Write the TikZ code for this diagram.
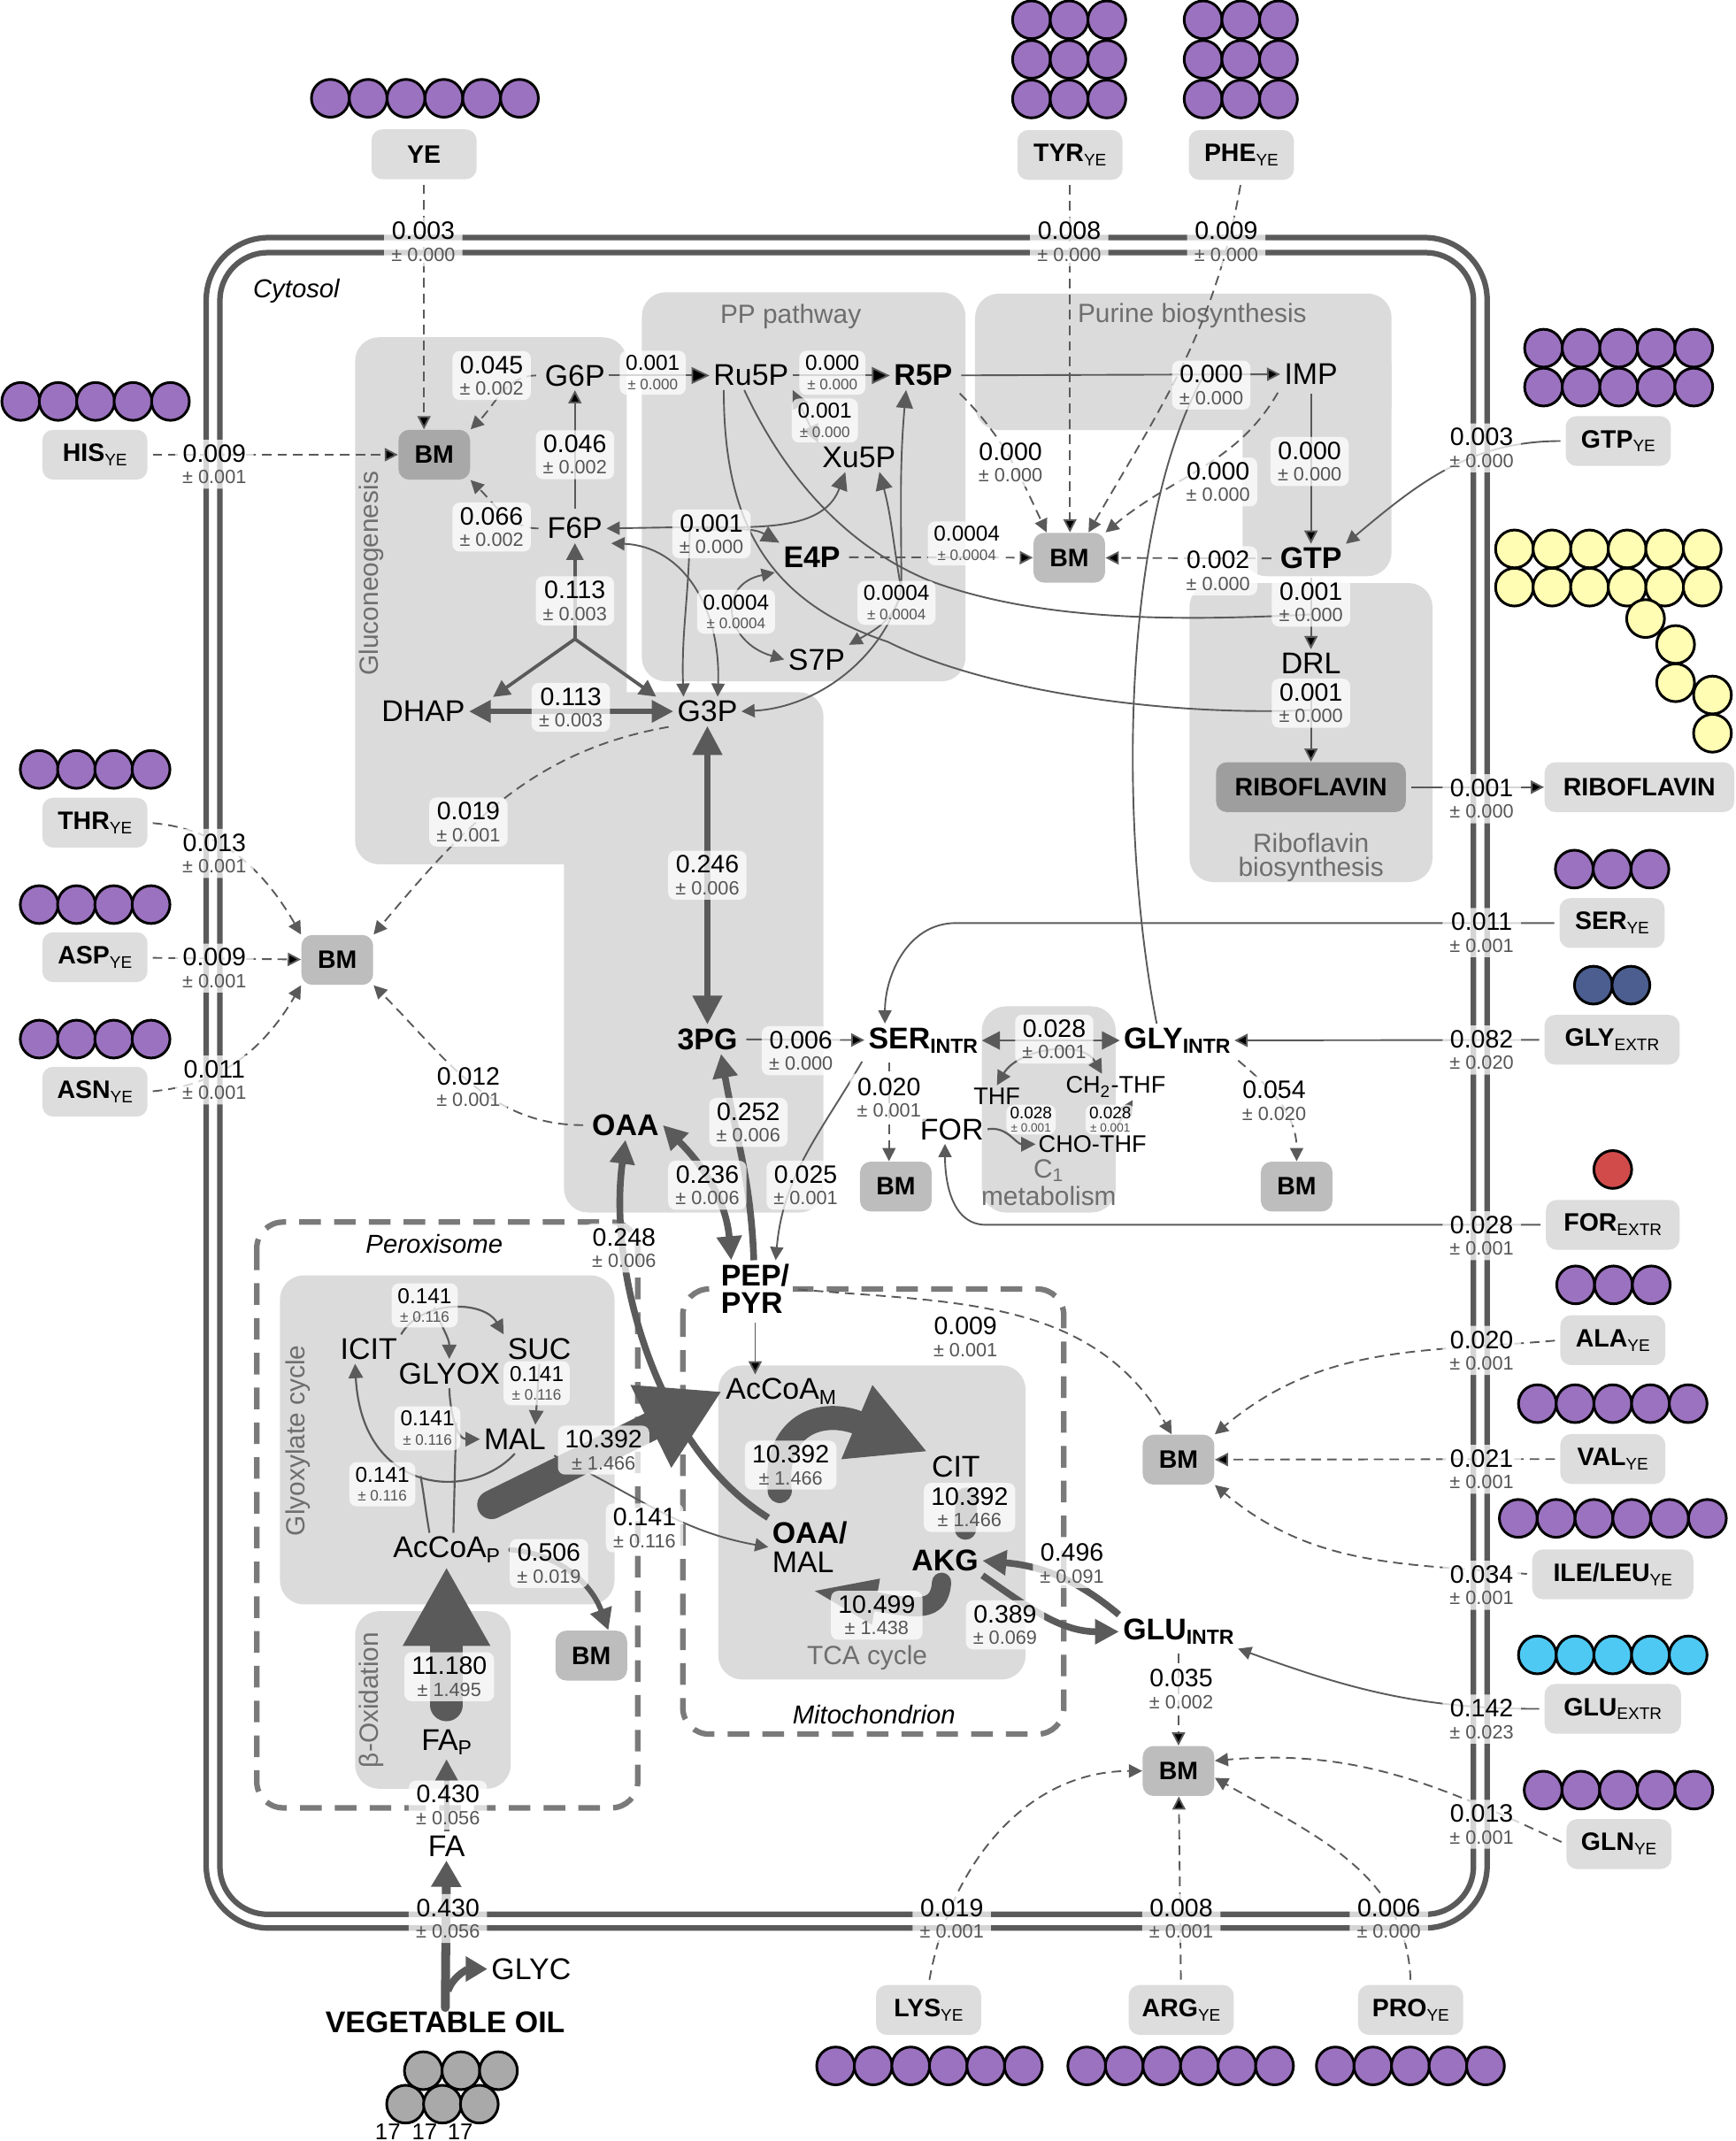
\documentclass[tikz,border=0pt]{standalone}
\usepackage{fontspec}
\setmainfont{Liberation Sans}
\usepackage{tikz}
\usetikzlibrary{arrows.meta,calc}

\definecolor{cmpgray}{HTML}{DBDBDB}
\definecolor{boxgray}{HTML}{DDDDDD}
\definecolor{bmgray}{HTML}{BDBDBD}
\definecolor{bmdark}{HTML}{A8A8A8}
\definecolor{ribodark}{HTML}{9E9E9E}
\definecolor{linegray}{HTML}{5A5A5A}
\definecolor{dashgray}{HTML}{7A7A7A}
\definecolor{txtgray}{HTML}{6E6E6E}
\definecolor{errgray}{HTML}{555555}
\definecolor{yecol}{HTML}{9B72BF}
\definecolor{glucol}{HTML}{4EC9F3}
\definecolor{glycol}{HTML}{4B5E8F}
\definecolor{forcol}{HTML}{D14B4B}
\definecolor{ribocol}{HTML}{FFFDB3}
\definecolor{oilcol}{HTML}{A9A9A9}

\newcommand{\fx}[2]{#1\\{\fontsize{8}{8}\selectfont\color{errgray}± #2}}
\newcommand{\fxs}[2]{#1\\{\fontsize{6.3}{6.3}\selectfont\color{errgray}± #2}}
\newcommand{\fxt}[2]{#1\\{\fontsize{5}{5}\selectfont\color{errgray}± #2}}
\newcommand{\lowtxt}[1]{\raisebox{-1.8pt}{\fontsize{7}{7}\selectfont\mdseries #1}}
\newcommand{\lowmet}[1]{\raisebox{-2pt}{\fontsize{8.5}{8.5}\selectfont #1}}

\tikzstyle{met}=[inner sep=1.5pt, font=\fontsize{12.5}{13}\selectfont]
\tikzstyle{metb}=[met, font=\fontsize{12.5}{13}\selectfont\bfseries]
\tikzstyle{metc}=[inner sep=1pt, font=\fontsize{10}{10}\selectfont]
\tikzstyle{extbox}=[fill=boxgray, rounded corners=4.5pt, minimum width=1.54cm, minimum height=0.73cm, inner sep=1pt, font=\fontsize{10.5}{11}\selectfont\bfseries]
\tikzstyle{bmbox}=[extbox, fill=bmgray, minimum width=1.05cm]
\tikzstyle{flux}=[fill=white, fill opacity=0.75, text opacity=1, rounded corners=3pt, align=center, inner xsep=3pt, inner ysep=2pt, font=\fontsize{10.5}{9}\selectfont]
\tikzstyle{fluxs}=[flux, inner xsep=2.5pt, font=\fontsize{9}{8}\selectfont]
\tikzstyle{fluxt}=[flux, inner xsep=1.5pt, inner ysep=1pt, font=\fontsize{7}{5.5}\selectfont]
\tikzstyle{comp}=[fill=cmpgray, rounded corners=10pt]
\tikzstyle{cmplab}=[text=txtgray, inner sep=1pt, font=\fontsize{11}{10}\selectfont]
\tikzstyle{orglab}=[inner sep=1pt, font=\fontsize{10.8}{11}\selectfont\itshape]
\tikzstyle{orgn}=[draw=dashgray, line width=2.3pt, dash pattern=on 9pt off 5.5pt, rounded corners=11pt]
\tikzstyle{aa}=[draw=black, line width=1.1pt, fill=yecol]
\tikzstyle{sflow}=[draw=linegray, line width=0.7pt, >={Triangle[length=5.5pt,width=5.5pt]}, ->, shorten <=2pt]
\tikzstyle{sflowb}=[draw=linegray, line width=0.7pt, >={Triangle[length=7.5pt,width=7pt]}, ->]
\tikzstyle{dflow}=[sflow, dash pattern=on 4pt off 2.5pt]
\tikzstyle{plainln}=[draw=linegray, line width=0.7pt]
\tikzstyle{mflow}=[draw=linegray, line width=1.4pt, >={Triangle[length=7pt,width=7pt]}]
\tikzstyle{tflow}=[draw=linegray, line width=2.8pt, >={Triangle[length=10pt,width=10pt]}]
\tikzstyle{gflow}=[draw=linegray, line width=0.8pt, >={Triangle[length=6pt,width=6pt]}]

\begin{document}
\begin{tikzpicture}[x=0.02cm, y=-0.02cm]
\useasboundingbox (0,0) rectangle (1271,1568);
\clip (0,0) rectangle (1271,1568);

% compartments
\fill[comp] (260,247) rectangle (459,633);
\fill[comp] (413,507) rectangle (603,888);
\fill[comp] (470,214) rectangle (707,499);
\fill[comp] (714,215) rectangle (1019,315);
\fill[comp] (910,250) rectangle (1019,422);
\fill[comp] (871,427) rectangle (1049,646);
\fill[comp] (719,737) rectangle (817,888);
\fill[comp] (205,934) rectangle (450,1175);
\fill[comp] (260,1180) rectangle (374,1310);
\fill[comp] (526,1000) rectangle (751,1230);

% cell membrane
\draw[draw=linegray, line width=2.3pt, rounded corners=26pt] (151,174) rectangle (1089,1412);
\draw[draw=linegray, line width=2.3pt, rounded corners=20pt] (161,185) rectangle (1079,1402);
% organelles
\draw[orgn] (188,895) rectangle (467,1324);
\draw[orgn] (500,944) rectangle (779,1270);

\node (cyto) [orglab] at (217,213) {Cytosol};
\node (perox) [orglab] at (318,911) {Peroxisome};
\node (mito) [orglab] at (640,1256) {Mitochondrion};
\node (glclab) [cmplab, rotate=90] at (272,420) {Gluconeogenesis};
\node (pplab) [cmplab] at (579,232) {PP pathway};
\node (purlab) [cmplab] at (873,231) {Purine biosynthesis};
\node (ribolab) [cmplab, align=center] at (960,628) {Riboflavin\\biosynthesis};
\node (c1lab) [cmplab, align=center, font=\fontsize{11}{11.5}\selectfont] at (768,866) {C\textsubscript{1}\\metabolism};
\node (gxlab) [cmplab, rotate=90] at (218,1055) {Glyoxylate cycle};
\node (boxlab) [cmplab, rotate=90] at (272,1245) {β-Oxidation};
\node (tcalab) [cmplab] at (635,1214) {TCA cycle};

% substrate composition
\foreach \i in {0,...,5} \draw[aa] (241.9+27.7*\i,72) circle (13.85);
\foreach \i in {0,...,4} \draw[aa] (15.2+27.4*\i,294) circle (13.85);
\foreach \i in {0,...,3} {
  \draw[aa] (28.7+27.3*\i,563.5) circle (13.85);
  \draw[aa] (28.7+27.3*\i,662.5) circle (13.85);
  \draw[aa] (28.7+27.3*\i,761) circle (13.85);
}
\foreach \i in {0,1,2} \foreach \j in {0,1,2} {
  \draw[aa] (755.3+27.6*\i,14.5+29*\j) circle (13.85);
  \draw[aa] (881+27.6*\i,14.5+29*\j) circle (13.85);
}
\foreach \i in {0,...,4} \foreach \j in {0,1} \draw[aa] (1130.3+27.5*\i,255+28.5*\j) circle (13.85);
\foreach \i in {0,...,5} \foreach \j in {0,1} \draw[aa, fill=ribocol] (1109+27.5*\i,402+28*\j) circle (13.85);
\foreach \p in {(1205,453),(1227,472),(1227,500),(1254,509),(1254,537)} \draw[aa, fill=ribocol] \p circle (13.85);
\foreach \i in {0,1,2} {
  \draw[aa] (1152.8+27.7*\i,636.5) circle (13.85);
  \draw[aa] (1153.8+27.7*\i,941) circle (13.85);
}
\foreach \i in {0,1} \draw[aa, fill=glycol] (1166.8+27.5*\i,721.5) circle (13.85);
\draw[aa, fill=forcol] (1181,856.5) circle (13.85);
\foreach \i in {0,...,4} {
  \draw[aa] (1125.8+27.6*\i,1028) circle (13.85);
  \draw[aa, fill=glucol] (1125.8+27.6*\i,1212) circle (13.85);
  \draw[aa] (1130+27.6*\i,1311) circle (13.85);
  \draw[aa] (977.8+27.5*\i,1513) circle (13.85);
}
\foreach \i in {0,...,5} {
  \draw[aa] (1111.8+27.7*\i,1112) circle (13.85);
  \draw[aa] (611.9+27.5*\i,1513) circle (13.85);
  \draw[aa] (795.8+27.5*\i,1513) circle (13.85);
}
\foreach \i in {0,1,2} {
  \draw[aa, fill=oilcol] (310+27.5*\i,1516.5) circle (13.85);
  \draw[aa, fill=oilcol] (297+27*\i,1541) circle (13.85);
}
\node (c17a) [metc, font=\fontsize{9.5}{10}\selectfont] at (284,1561) {17};
\node (c17b) [metc, font=\fontsize{9.5}{10}\selectfont] at (311,1561) {17};
\node (c17c) [metc, font=\fontsize{9.5}{10}\selectfont] at (337,1561) {17};

% exchange boxes
\node (ye) [extbox] at (310.5,113) {YE};
\node (tyr) [extbox] at (783.5,113.5) {TYR\lowtxt{YE}};
\node (phe) [extbox] at (909,113.5) {PHE\lowtxt{YE}};
\node (his) [extbox] at (69.5,333) {HIS\lowtxt{YE}};
\node (thr) [extbox] at (69.5,602.5) {THR\lowtxt{YE}};
\node (asp) [extbox] at (69.5,701) {ASP\lowtxt{YE}};
\node (asn) [extbox] at (69.5,799.5) {ASN\lowtxt{YE}};
\node (gtpye) [extbox] at (1185,323) {GTP\lowtxt{YE}};
\node (riboe) [extbox, minimum width=2.78cm] at (1200.5,576.5) {RIBOFLAVIN};
\node (serye) [extbox] at (1180.5,676) {SER\lowtxt{YE}};
\node (glye) [extbox, minimum width=1.98cm] at (1180.5,761.5) {GLY\lowtxt{EXTR}};
\node (fore) [extbox, minimum width=1.96cm] at (1181,897) {FOR\lowtxt{EXTR}};
\node (alaye) [extbox] at (1181,981.5) {ALA\lowtxt{YE}};
\node (valye) [extbox] at (1181,1068.5) {VAL\lowtxt{YE}};
\node (ileye) [extbox, minimum width=2.36cm] at (1181,1153) {ILE/LEU\lowtxt{YE}};
\node (glue) [extbox, minimum width=2cm] at (1181,1251.5) {GLU\lowtxt{EXTR}};
\node (glnye) [extbox] at (1185.5,1350.5) {GLN\lowtxt{YE}};
\node (lysye) [extbox] at (680,1472) {LYS\lowtxt{YE}};
\node (argye) [extbox] at (865,1472) {ARG\lowtxt{YE}};
\node (proye) [extbox] at (1033,1472) {PRO\lowtxt{YE}};

% biomass sinks
\node (bmglc) [bmbox, fill=bmdark] at (318,333) {BM};
\node (bmleft) [bmbox] at (247,703) {BM};
\node (bmpur) [bmbox] at (783,408.5) {BM};
\node (bmser) [bmbox] at (656,869) {BM};
\node (bmgly) [bmbox] at (949.5,869) {BM};
\node (bmala) [bmbox] at (863,1069) {BM};
\node (bmglu) [bmbox] at (863,1297) {BM};
\node (bmacp) [bmbox] at (433,1212.5) {BM};
\node (riboi) [bmbox, fill=ribodark, minimum width=2.78cm] at (960,576.5) {RIBOFLAVIN};

% metabolites
\node (g6p) [met] at (421,275) {G6P};
\node (ru5p) [met] at (550,275) {Ru5P};
\node (r5p) [metb] at (676,275) {R5P};
\node (imp) [met] at (960,274) {IMP};
\node (xu5p) [met] at (629,335) {Xu5P};
\node (f6p) [met] at (421,387) {F6P};
\node (e4p) [metb] at (594.5,408) {E4P};
\node (gtp) [metb] at (960,409) {GTP};
\node (s7p) [met] at (598,483) {S7P};
\node (dhap) [met] at (310,521) {DHAP};
\node (g3p) [met] at (518,521) {G3P};
\node (drl) [met] at (960,486) {DRL};
\node (pg3) [metb] at (518,761) {3PG};
\node (seri) [metb] at (676,762) {SER\lowmet{INTR}};
\node (glyi) [metb] at (862,762) {GLY\lowmet{INTR}};
\node (thf) [metc] at (730,803) {THF};
\node (ch2thf) [metc] at (817,796) {CH\textsubscript{2}-THF};
\node (form) [met] at (697,827) {FOR};
\node (chothf) [metc] at (800,838) {CHO-THF};
\node (oaa) [metb] at (458,824) {OAA};
\node (pep) [metb, fill=white, align=left, font=\fontsize{12.5}{11.5}\selectfont\bfseries] at (553,944) {PEP/\\PYR};
\node (acoam) [met] at (572,1019) {AcCoA\lowmet{M}};
\node (cit) [met] at (700,1074) {CIT};
\node (oaamal) [met, align=left, font=\fontsize{12.5}{12}\selectfont] at (593,1133) {\textbf{OAA/}\\MAL};
\node (akg) [metb] at (692,1143) {AKG};
\node (glui) [metb] at (863,1195) {GLU\lowmet{INTR}};
\node (icit) [met] at (270,988) {ICIT};
\node (suc) [met] at (395,988) {SUC};
\node (glyox) [met] at (329,1006) {GLYOX};
\node (mal) [met] at (377,1054) {MAL};
\node (acoap) [met] at (327,1135) {AcCoA\lowmet{P}};
\node (fap) [met] at (327,1276) {FA\lowmet{P}};
\node (fa) [met] at (327,1352) {FA};
\node (oil) [metb] at (326,1481) {VEGETABLE OIL};
\node (glyc) [met] at (389,1442) {GLYC};

% junctions
\coordinate (ald) at (421,468);
\coordinate (tk1) at (505,386);
\coordinate (tk2) at (660,432);
\coordinate (drlj1) at (960,450);
\coordinate (drlj2) at (960,520);
\coordinate (prjoin) at (882,274);
\coordinate (serbend) at (700,676);
\coordinate (forbend) at (722,897);
\coordinate (acptail) at (360,1102);
\coordinate (cstail) at (571,1092);
\coordinate (glycj) at (328,1458);
\coordinate (gx1j) at (318,957.5);
\coordinate (gx3j) at (334,1042);
\coordinate (gx4j) at (308,1081);

% uptake into biomass
\path[dflow]
  (ye) edge (ye.south |- bmglc.north)
  (his) edge (bmglc)
  (tyr) edge (tyr.south |- bmpur.north)
  (e4p) edge (bmpur)
  (gtp) edge (bmpur)
  (asp) edge (bmleft)
  (valye) edge (bmala)
  (glui) edge (glui.south |- bmglu.north)
  (argye) edge (bmglu);
\draw[dflow] (phe.south) to[out=-100,in=60] ([xshift=-0.25cm]bmpur.north east);
\draw[dflow] (r5p.south east) to[out=-45,in=115] ([xshift=0.2cm]bmpur.north west);
\draw[dflow] (imp.south west) to[out=-120,in=40] (bmpur.north east);
\draw[dflow] (g6p.west) to[out=180,in=45] (bmglc.north east);
\draw[dflow] (f6p.west) to[out=180,in=-45] (bmglc.south east);
\draw[dflow] (thr.east) to[out=-5,in=120] (bmleft.north west);
\draw[dflow] (asn.east) to[out=5,in=-120] (bmleft.south west);
\draw[dflow] (g3p.south west) to[out=190,in=50] (bmleft.north east);
\draw[dflow] (oaa.west) to[out=180,in=-45] (bmleft.south east);
\draw[dflow] ([xshift=-0.5cm]seri.south) -- ([xshift=-0.5cm]seri.south |- bmser.north);
\draw[dflow] (glyi.south east) to[out=-40,in=90] (bmgly.north);
\draw[dflow] (pep.east) to[out=-5,in=120] ([xshift=-0.1cm]bmala.north);
\draw[dflow] (alaye.west) to[out=185,in=40] (bmala.north east);
\draw[dflow] (ileye.west) to[out=175,in=-40] (bmala.south east);
\draw[dflow] (glnye.west) to[out=155,in=5] ([yshift=0.15cm]bmglu.east);
\draw[dflow] (lysye.north) to[out=80,in=180] (bmglu.west);
\draw[dflow] (proye.north) to[out=92,in=-30] ([yshift=-0.1cm]bmglu.east);

% gluconeogenesis
\path[sflow] (f6p) edge (g6p);
\draw[mflow, ->] (ald) -- (f6p.south);
\draw[mflow, ->] (ald) -- ([xshift=0.35cm]dhap.north east);
\draw[mflow, ->] (ald) -- ([xshift=-0.25cm]g3p.north west);
\draw[draw=linegray, line width=2pt, >={Triangle[length=9pt,width=9pt]}, <->] (dhap) -- (g3p);
\draw[draw=linegray, line width=2.3pt, >={Triangle[length=12pt,width=12pt]}, <->] (g3p) -- (pg3);

% PP pathway
\path[sflowb] (g6p) edge (ru5p)
  (ru5p) edge (r5p);
\draw[sflowb, <->] (ru5p.south east) -- (xu5p.north west);
\draw[sflow, shorten <=0pt] (tk1) -- (f6p.east);
\draw[sflowb] (tk1) to[out=0,in=-110] ([xshift=-0.2cm]xu5p.south);
\draw[sflowb] (tk1) to[out=-10,in=150] (e4p.north west);
\draw[sflow, shorten <=0pt] (tk1) to[out=-90,in=92] ([xshift=-0.35cm]g3p.north);
\draw[sflow, <->] (f6p.south east) .. controls (500,400) and (528,445) .. ([xshift=0.15cm]g3p.north);
\draw[sflow, <->] (e4p.south west) .. controls (525,428) and (530,470) .. (s7p.west);
\draw[sflowb] (tk2) to[out=90,in=-95] ([xshift=-0.25cm]r5p.south);
\draw[sflowb] (tk2) to[out=100,in=-75] ([xshift=0.3cm]xu5p.south);
\draw[sflow, shorten <=0pt] (tk2) to[out=-100,in=30] (s7p.north east);
\draw[sflow, shorten <=0pt] (tk2) .. controls (648,480) and (600,518) .. (g3p.east);

% purine and riboflavin
\path[sflow] (r5p) edge (imp)
  (imp) edge (gtp)
  (gtp) edge (drl)
  (drl) edge (riboi)
  (riboi) edge (riboe);
\draw[sflow] (gtpye.west) to[out=180,in=40] (gtp.north east);
\draw[plainln] ([xshift=-0.1cm]ru5p.south) .. controls (575,350) and (620,400) .. (680,425) .. controls (760,455) and (860,455) .. (drlj1);
\draw[plainln] ([xshift=-0.4cm]ru5p.south) .. controls (530,380) and (560,440) .. (650,470) .. controls (720,505) and (850,525) .. (drlj2);
\draw[plainln] ([xshift=-0.3cm]glyi.north) .. controls (818,600) and (822,380) .. (prjoin);

% serine, glycine and C1
\path[sflow] (pg3) edge (seri)
  (glye) edge (glyi);
\draw[draw=linegray, line width=0.9pt, >={Triangle[length=7.5pt,width=7.5pt]}, <->] (seri) -- (glyi);
\draw[sflow] (serye.west) -- (serbend) to[out=180,in=90] ([xshift=0.3cm]seri.north west);
\draw[sflow] (fore.west) -- (forbend) to[out=180,in=-90] ([xshift=-0.1cm]form.south);
\draw[gflow, <->] (thf.north) to[out=60,in=120] ([xshift=-0.2cm]ch2thf.north);
\draw[gflow, ->] (form.east) to[out=10,in=180] (chothf.west);
\draw[gflow, ->] ([xshift=0.3cm]chothf.north) -- ([xshift=0.25cm]ch2thf.south);
\draw[sflow] (seri.south west) to[out=-120,in=85] ([xshift=0.3cm]pep.north);

% central carbon
\draw[tflow, ->] (oaamal.north west) .. controls (480,1060) and (445,930) .. (oaa.south);
\draw[tflow, ->] ([xshift=-0.02cm]pep.north) to[out=92,in=-80] ([xshift=0.2cm]pg3.south);
\draw[tflow, <->] (oaa.east) to[out=-45,in=95] ([xshift=-0.35cm]pep.north);
\path[sflow] (pep) edge (pep.south |- acoam.north);
\draw[draw=linegray, line width=12pt, line cap=round, -{Triangle[length=33pt,width=36pt]}] (acptail) -- (acoam.west);
\draw[draw=linegray, line width=10pt, line cap=round, -{Triangle[length=32pt,width=31pt]}] (cstail) .. controls (566,1045) and (600,1030) .. (cit.north west);
\draw[draw=linegray, line width=9pt, line cap=round] ([xshift=0.15cm,yshift=-0.25cm]cit.south) -- ([xshift=0.3cm,yshift=0.25cm]akg.north);
\draw[draw=linegray, line width=8pt, line cap=round, -{Triangle[length=28pt,width=17pt]}] ([xshift=-0.05cm,yshift=-0.1cm]akg.south) .. controls (688,1182) and (670,1178) .. ([yshift=-0.2cm]oaamal.south);
\draw[tflow, ->] (glui.north west) to[out=140,in=-5] (akg.east);
\draw[tflow, ->] (akg.south east) to[out=-35,in=180] (glui.west);
\draw[sflow] (glue.west) to[out=180,in=-20] (glui.south east);

% peroxisome
\draw[gflow, ->] (icit.north east) to[out=60,in=120] (suc.north west);
\draw[gflow, ->] (gx1j) to[out=-70,in=90] (glyox.north);
\draw[gflow, ->] (suc.south) -- ([xshift=0.3cm]mal.north);
\draw[gflow, ->] (glyox.south) to[out=-88,in=180] (mal.west);
\draw[gflow] ([xshift=0.1cm]acoap.north) -- (gx3j);
\draw[gflow, ->] (mal.south) .. controls (345,1100) and (265,1095) .. ([xshift=-0.2cm]icit.south);
\draw[gflow] ([xshift=-0.25cm]acoap.north) to[out=100,in=-80] (gx4j);
\draw[sflow] (mal.south east) to[out=-25,in=170] (oaamal.west);
\draw[draw=linegray, line width=2.2pt, line cap=round, >={Triangle[length=9pt,width=9pt]}, ->] ([xshift=0.1cm]acoap.east) to[out=-5,in=110] ([xshift=0.25cm]bmacp.north);
\draw[draw=linegray, line width=13.5pt, line cap=round, -{Triangle[length=33pt,width=34pt]}] ([yshift=0.3cm]fap.north) -- (acoap.south);
\draw[draw=linegray, line width=2.3pt, >={Triangle[length=9pt,width=9pt]}, ->] (fa) -- (fap);
\draw[draw=linegray, line width=3.7pt, line cap=round, >={Triangle[length=11pt,width=12pt]}, ->] (oil) -- (fa);
\draw[draw=linegray, line width=3pt, >={Triangle[length=9pt,width=10pt]}, ->] (glycj) to[out=70,in=180] (glyc.west);

% fluxes across the membrane
\node (fye) [flux] at (310,177) {\fx{0.003}{0.000}};
\node (ftyr) [flux] at (783,177) {\fx{0.008}{0.000}};
\node (fphe) [flux] at (898,177) {\fx{0.009}{0.000}};
\node (fhis) [flux] at (157,340) {\fx{0.009}{0.001}};
\node (fthr) [flux] at (157,625) {\fx{0.013}{0.001}};
\node (fasp) [flux] at (157,709) {\fx{0.009}{0.001}};
\node (fasn) [flux] at (157,791) {\fx{0.011}{0.001}};
\node (fgtp) [flux] at (1085,328) {\fx{0.003}{0.000}};
\node (fribo) [flux] at (1085,585) {\fx{0.001}{0.000}};
\node (fser) [flux] at (1085,683) {\fx{0.011}{0.001}};
\node (fgly) [flux] at (1085,769) {\fx{0.082}{0.020}};
\node (ffor) [flux] at (1085,905) {\fx{0.028}{0.001}};
\node (fala) [flux] at (1085,989) {\fx{0.020}{0.001}};
\node (fval) [flux] at (1085,1076) {\fx{0.021}{0.001}};
\node (fileu) [flux] at (1085,1161) {\fx{0.034}{0.001}};
\node (fglu) [flux] at (1085,1259) {\fx{0.142}{0.023}};
\node (fgln) [flux] at (1085,1336) {\fx{0.013}{0.001}};
\node (flys) [flux] at (697,1405) {\fx{0.019}{0.001}};
\node (farg) [flux] at (865,1405) {\fx{0.008}{0.001}};
\node (fpro) [flux] at (1017,1405) {\fx{0.006}{0.000}};
\node (foil) [flux] at (328,1405) {\fx{0.430}{0.056}};

% fluxes inside the cell
\node (fg6pbm) [flux] at (360,275) {\fx{0.045}{0.002}};
\node (ff6pg6p) [flux] at (421,333) {\fx{0.046}{0.002}};
\node (ff6pbm) [flux] at (360,386) {\fx{0.066}{0.002}};
\node (fald) [flux] at (421,440) {\fx{0.113}{0.003}};
\node (ftpi) [flux] at (418,518) {\fx{0.113}{0.003}};
\node (fg3pbm) [flux] at (343,602) {\fx{0.019}{0.001}};
\node (fg3p3pg) [flux] at (518,641) {\fx{0.246}{0.006}};
\node (foaabm) [flux] at (343,796) {\fx{0.012}{0.001}};
\node (fg6pdh) [fluxs] at (478,273) {\fxs{0.001}{0.000}};
\node (frpi) [fluxs] at (609.5,273) {\fxs{0.000}{0.000}};
\node (frpe) [fluxs] at (604,308) {\fxs{0.001}{0.000}};
\node (ftk1) [flux] at (521,391) {\fx{0.001}{0.000}};
\node (fta) [fluxs] at (539,448) {\fxs{0.0004}{0.0004}};
\node (ftk2) [fluxs] at (656.5,441.5) {\fxs{0.0004}{0.0004}};
\node (fe4pbm) [fluxs] at (708,398) {\fxs{0.0004}{0.0004}};
\node (fr5pbm) [flux] at (740,338.5) {\fx{0.000}{0.000}};
\node (fprpp) [flux] at (887,282) {\fx{0.000}{0.000}};
\node (fimpgtp) [flux] at (959,338) {\fx{0.000}{0.000}};
\node (fimpbm) [flux] at (892,353) {\fx{0.000}{0.000}};
\node (fgtpbm) [flux] at (892,418) {\fx{0.002}{0.000}};
\node (fgtpdrl) [flux] at (960,441) {\fx{0.001}{0.000}};
\node (fdrlribo) [flux] at (960,515) {\fx{0.001}{0.000}};
\node (f3pgser) [flux] at (586.5,769.5) {\fx{0.006}{0.000}};
\node (fshmt) [flux] at (772,761) {\fx{0.028}{0.001}};
\node (fc1a) [fluxt] at (755,820) {\fxt{0.028}{0.001}};
\node (fc1b) [fluxt] at (813,820) {\fxt{0.028}{0.001}};
\node (fserbm) [flux] at (651,804) {\fx{0.020}{0.001}};
\node (fglybm) [flux] at (933,806) {\fx{0.054}{0.020}};
\node (fpep3pg) [flux] at (548,822) {\fx{0.252}{0.006}};
\node (foaapep) [flux] at (518,868) {\fx{0.236}{0.006}};
\node (fserpep) [flux] at (590,868) {\fx{0.025}{0.001}};
\node (fmaloaa) [flux] at (457,914) {\fx{0.248}{0.006}};
\node (fpepbm) [flux] at (707,979) {\fx{0.009}{0.001}};
\node (facoa) [flux] at (442,1062) {\fx{10.392}{1.466}};
\node (fcs) [flux] at (579,1073) {\fx{10.392}{1.466}};
\node (fcitakg) [flux] at (710,1104) {\fx{10.392}{1.466}};
\node (fakgoaa) [flux] at (642,1183) {\fx{10.499}{1.438}};
\node (fglxmal) [flux] at (472,1119) {\fx{0.141}{0.116}};
\node (fgluakg) [flux] at (785,1145) {\fx{0.496}{0.091}};
\node (fakgglu) [flux] at (736,1190) {\fx{0.389}{0.069}};
\node (fglubm) [flux] at (865,1237) {\fx{0.035}{0.002}};
\node (facoapbm) [flux] at (402,1145) {\fx{0.506}{0.019}};
\node (fbox) [flux] at (329,1228) {\fx{11.180}{1.495}};
\node (ffa) [flux] at (328,1322) {\fx{0.430}{0.056}};
\node (fgx1) [fluxs] at (311,956) {\fxs{0.141}{0.116}};
\node (fgx2) [fluxs] at (393,1013) {\fxs{0.141}{0.116}};
\node (fgx3) [fluxs] at (313,1046) {\fxs{0.141}{0.116}};
\node (fgx4) [fluxs] at (280,1087) {\fxs{0.141}{0.116}};
\end{tikzpicture}
\end{document}
